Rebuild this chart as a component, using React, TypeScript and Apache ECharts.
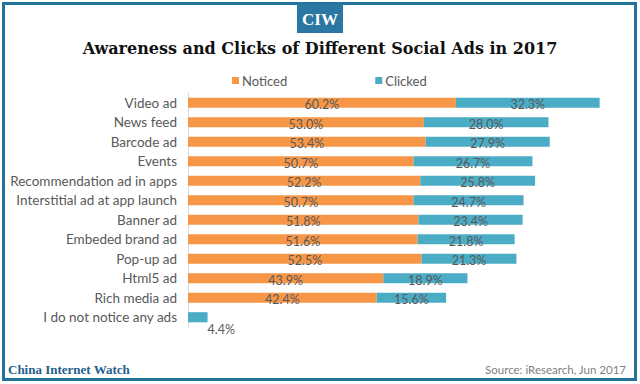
import React, { useEffect, useRef } from "react";
import * as echarts from "echarts";

const categories = [
  "Video ad",
  "News feed",
  "Barcode ad",
  "Events",
  "Recommendation ad in apps",
  "Interstitial ad at app launch",
  "Banner ad",
  "Embeded brand ad",
  "Pop-up ad",
  "Html5 ad",
  "Rich media ad",
  "I do not notice any ads",
];
const noticed = [60.2, 53.0, 53.4, 50.7, 52.2, 50.7, 51.8, 51.6, 52.5, 43.9, 42.4, null];
const clicked = [32.3, 28.0, 27.9, 26.7, 25.8, 24.7, 23.4, 21.8, 21.3, 18.9, 15.6, 4.4];
const seriesNames = ["Noticed", "Clicked"];
const titleText = "Awareness and Clicks of Different Social Ads in 2017";
const sourceText = "Source: iResearch, Jun 2017";
const brandText = "China Internet Watch";
const logoText = "CIW";

const ORANGE = "#F79646";
const BLUE = "#4BACC6";
const FRAME = "#23729c";
const GRAY = "#595959";
const FONT = "Lato";

export default function App() {
  const ref = useRef<HTMLDivElement>(null);
  useEffect(() => {
    if (!ref.current) return;
    const chart = echarts.init(ref.current, null, { renderer: "svg" });
    const lastIdx = categories.length - 1;
    chart.setOption({
      animation: false,
      backgroundColor: "#ffffff",
      legend: {
        data: seriesNames,
        top: 69,
        left: 227,
        itemWidth: 7,
        itemHeight: 7,
        itemGap: 88,
        icon: "rect",
        textStyle: { color: GRAY, fontSize: 13, fontFamily: FONT, padding: [0, 0, 0, -2] },
      },
      grid: { left: 188, right: 7, top: 93, height: 234, containLabel: false },
      xAxis: {
        type: "value",
        min: 0,
        max: 100,
        show: false,
      },
      yAxis: {
        type: "category",
        data: categories,
        inverse: true,
        axisLine: { show: true, lineStyle: { color: "#d9d9d9", width: 1 } },
        axisTick: { show: false },
        axisLabel: { color: GRAY, fontSize: 13.5, fontFamily: FONT, margin: 11 },
      },
      series: [
        {
          name: seriesNames[0],
          type: "bar",
          stack: "total",
          data: noticed,
          barCategoryGap: "48%",
          itemStyle: { color: ORANGE },
          label: {
            show: true,
            position: "inside",
            offset: [0, 2],
            color: GRAY,
            fontSize: 12.5,
            fontFamily: FONT,
            formatter: (p: any) => (p.value == null ? "" : p.value.toFixed(1) + "%"),
          },
        },
        {
          name: seriesNames[1],
          type: "bar",
          stack: "total",
          data: clicked.map((v, i) =>
            i === lastIdx
              ? { value: v, label: { position: "right", distance: 0, offset: [0, 12] } }
              : v
          ),
          itemStyle: { color: BLUE },
          label: {
            show: true,
            position: "inside",
            offset: [0, 2],
            color: GRAY,
            fontSize: 12.5,
            fontFamily: FONT,
            formatter: (p: any) => Number(p.value).toFixed(1) + "%",
          },
        },
      ],
      graphic: [
        {
          type: "rect",
          shape: { x: 3.5, y: 3.5, width: 632, height: 376 },
          style: { fill: "none", stroke: FRAME, lineWidth: 3 },
          silent: true,
        },
        {
          type: "rect",
          shape: { x: 297, y: 4, width: 46, height: 29 },
          style: { fill: "#2a77a1" },
        },
        {
          type: "text",
          x: 320,
          y: 19,
          style: {
            text: logoText,
            fill: "#ffffff",
            font: "bold 17px 'Liberation Serif'",
            align: "center",
            verticalAlign: "middle",
          },
        },
        {
          type: "text",
          x: 320,
          y: 48,
          style: {
            text: titleText,
            fill: "#111111",
            font: "bold 16px 'DejaVu Serif'",
            align: "center",
            verticalAlign: "middle",
          },
        },
        {
          type: "text",
          x: 8,
          y: 369,
          style: {
            text: brandText,
            fill: "#1f5f8c",
            font: "bold 13px 'Liberation Serif'",
            align: "left",
            verticalAlign: "middle",
          },
        },
        {
          type: "text",
          x: 626,
          y: 369,
          style: {
            text: sourceText,
            fill: "#7f7f7f",
            font: "11.5px " + FONT,
            align: "right",
            verticalAlign: "middle",
          },
        },
      ],
    });
    return () => chart.dispose();
  }, []);
  return (
    <div
      ref={ref}
      style={{ position: "fixed", left: 0, top: 0, width: 640, height: 384 }}
    />
  );
}
